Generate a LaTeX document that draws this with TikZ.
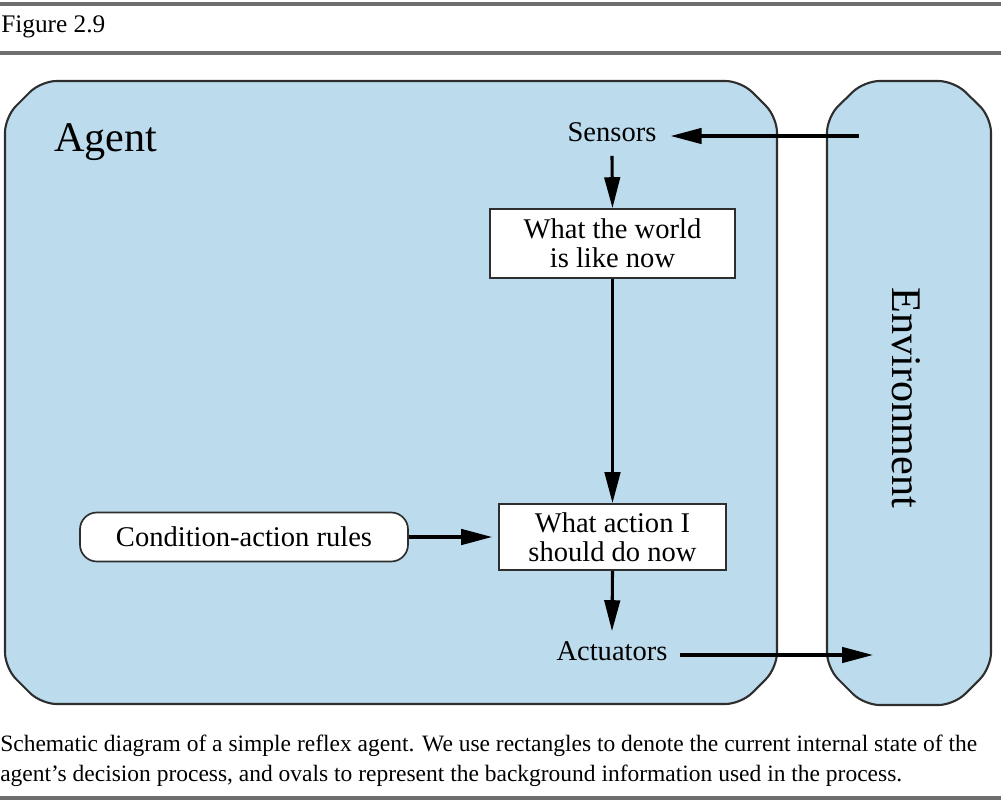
\documentclass[tikz,border=0pt]{standalone}
\usepackage{fontspec}
\setmainfont{Liberation Serif}
\usetikzlibrary{arrows.meta}
\definecolor{agentblue}{HTML}{BCDCED}
\definecolor{rulegray}{HTML}{6E6E6E}
\definecolor{edgegray}{HTML}{2E2E2E}
\tikzset{
  panel/.style={fill=agentblue, draw=edgegray, line width=1.5pt, rounded corners=11pt},
  statebox/.style={draw=edgegray, fill=white, line width=1.2pt, align=center, font=\fontsize{20.3}{20.5}\selectfont, inner sep=0pt, minimum width=245*0.025cm, minimum height=69*0.025cm},
  oval/.style={draw=edgegray, fill=white, line width=1.2pt, rounded corners=12pt, font=\fontsize{20.3}{22}\selectfont, inner sep=0pt, minimum width=328*0.025cm, minimum height=49*0.025cm},
  label/.style={font=\fontsize{20.3}{22}\selectfont, inner sep=0pt},
  biglabel/.style={font=\fontsize{30}{32}\selectfont, inner sep=0pt},
  flow/.style={line width=2.2pt, -{Triangle[length=22pt,width=11pt]}},
  rule/.style={draw=rulegray, line width=2.3pt},
}
\begin{document}
\begin{tikzpicture}[x=0.025cm, y=-0.025cm]
\useasboundingbox (0,0) rectangle (1001,800);
% rules
\draw[rule] (0,4) -- (1001,4);
\draw[rule] (0,53) -- (1001,53);
\draw[rule] (0,798) -- (1001,798);
\node[anchor=base west, inner sep=0pt, font=\fontsize{18}{20}\selectfont] (fig) at (1,33) {Figure 2.9};
% panels
\draw[panel] (5,117) -- (41,81) -- (741,81) -- (777,117) -- (777,668) -- (741,704) -- (41,704) -- (5,668) -- cycle;
\draw[panel] (827,117) -- (864,81) -- (954,81) -- (991,117) -- (991,668) -- (954,705) -- (864,705) -- (827,668) -- cycle;
\node[biglabel, anchor=base west] (agent) at (54,152) {Agent};
\node[biglabel, rotate=-90] (env) at (906,398) {Environment};
% nodes
\node[label] (sensors) at (612,132) {Sensors};
\node[statebox] (world) at (612.5,243.5) {What the world\\is like now};
\node[statebox, minimum width=227*0.025cm, minimum height=66*0.025cm] (action) at (612.5,537) {What action I\\should do now};
\node[oval] (rules) at (244,537) {Condition-action rules};
\node[label] (act) at (612,651) {Actuators};
\coordinate (envin) at (859,136);
\coordinate (envout) at (873,655);
% connectors
\draw[flow] (envin) -- ([xshift=14*0.025cm]sensors.east |- envin);
\draw[flow] ([yshift=-14*0.025cm]sensors.south) -- (world.north);
\draw[flow] (world.south) -- (action.north);
\draw[flow] (rules.east) -- ([xshift=-6*0.025cm]action.west);
\draw[flow] (action.south) -- ([yshift=10*0.025cm]act.north);
\draw[flow] ([xshift=12*0.025cm]act.east |- envout) -- (envout);
% caption
\node[anchor=base west, inner sep=0pt, align=left, font=\fontsize{16.7}{21}\selectfont] (cap) at (0,781) {Schematic diagram of a simple reflex agent. We use rectangles to denote the current internal state of the\\agent's decision process, and ovals to represent the background information used in the process.};
\end{tikzpicture}
\end{document}
